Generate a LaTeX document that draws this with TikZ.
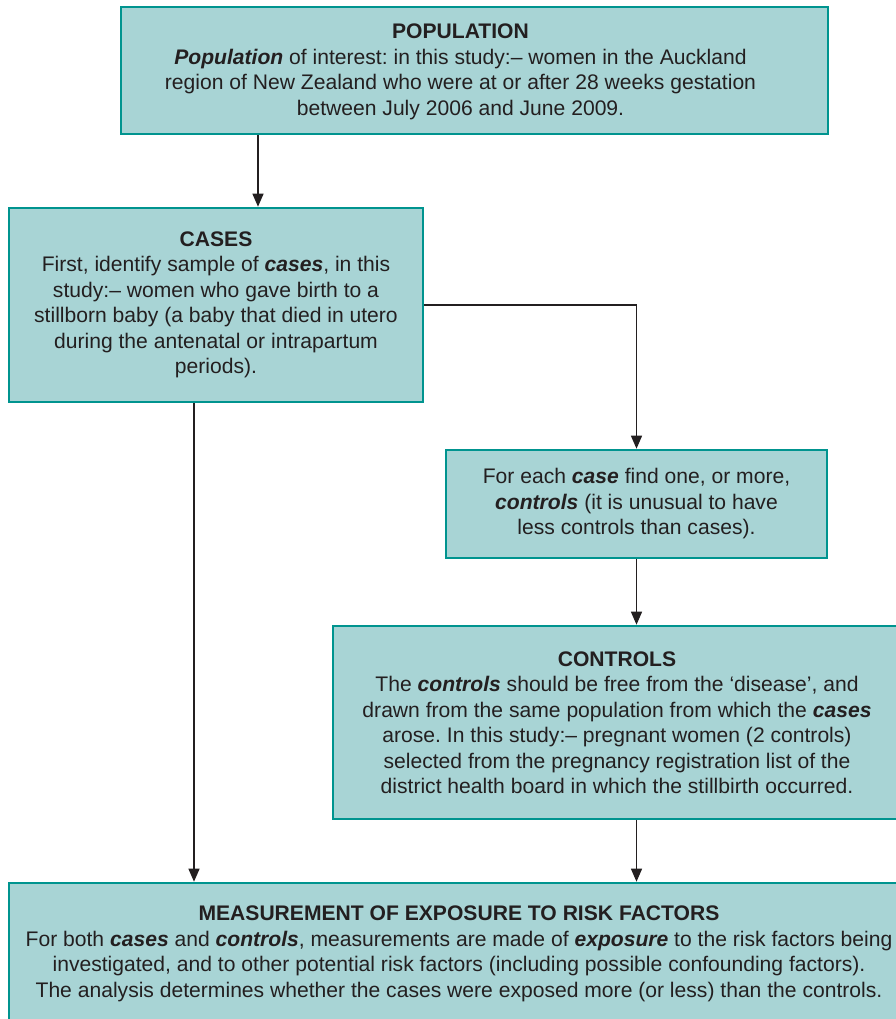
\documentclass[tikz,border=0pt]{standalone}
\usepackage{fontspec}
\setmainfont{Liberation Sans}
\usetikzlibrary{arrows.meta, positioning}

\definecolor{boxfill}{HTML}{A8D4D5}
\definecolor{boxline}{HTML}{00948F}
\definecolor{ink}{HTML}{231F20}

\newcommand{\key}[1]{\textbf{\textit{#1}}}
\frenchspacing

\begin{document}
\begin{tikzpicture}[x=1pt,y=1pt,
    font=\fontsize{21.1}{25.5}\selectfont, text=ink]
  \tikzset{
    box/.style={draw=boxline, line width=2.6pt, fill=boxfill,
      align=center, inner sep=0pt},
    arr/.style={-{Triangle[width=11pt,length=13pt]}, draw=ink, line width=1.3pt}
  }
  \useasboundingbox (0,0) rectangle (895,-1019);

  % boxes
  \node[box, minimum width=707, minimum height=127] (pop) at (474.5,-70.5) {};
  \node[align=center] (poptext) at ([xshift=-14]pop.center |- 0,-72)
    {\textbf{POPULATION}\\
     \key{Population} of interest: in this study:– women in the Auckland\\
     region of New Zealand who were at or after 28 weeks gestation\\
     between July 2006 and June 2009.};

  \node[box, minimum width=414, minimum height=194] (cases) at (216,-305)
    {\textbf{CASES}\\
     First, identify sample of \key{cases}, in this\\
     study:– women who gave birth to a\\
     stillborn baby (a baby that died in utero\\
     during the antenatal or intrapartum\\
     periods).};

  \node[box, minimum width=381, minimum height=108] (each) at (636.5,-504)
    {For each \key{case} find one, or more,\\
     \key{controls} (it is unusual to have\\
     less controls than cases).};

  \node[box, minimum width=568, minimum height=193] (ctrl) at (617,-722.5)
    {\textbf{CONTROLS}\\
     The \key{controls} should be free from the ‘disease’, and\\
     drawn from the same population from which the \key{cases}\\
     arose. In this study:– pregnant women (2 controls)\\
     selected from the pregnancy registration list of the\\
     district health board in which the stillbirth occurred.};

  \node[box, minimum width=900, minimum height=142] (meas) at (459,-954)
    {\textbf{MEASUREMENT OF EXPOSURE TO RISK FACTORS}\\
     For both \key{cases} and \key{controls}, measurements are made of \key{exposure} to the risk factors being\\
     investigated, and to other potential risk factors (including possible confounding factors).\\
     The analysis determines whether the cases were exposed more (or less) than the controls.};

  % connectors
  \draw[arr] ([xshift=-216.5]pop.south) -- ([xshift=-216.5]pop.south |- cases.north);
  \draw[arr] (cases.east) -| (each.north);
  \draw[arr] (each.south) -- (ctrl.north -| each.south);
  \draw[arr] ([xshift=-22]cases.south) -- ([xshift=-22]cases.south |- meas.north);
  \draw[arr] (ctrl.south -| each.south) -- (meas.north -| each.south);
\end{tikzpicture}
\end{document}
